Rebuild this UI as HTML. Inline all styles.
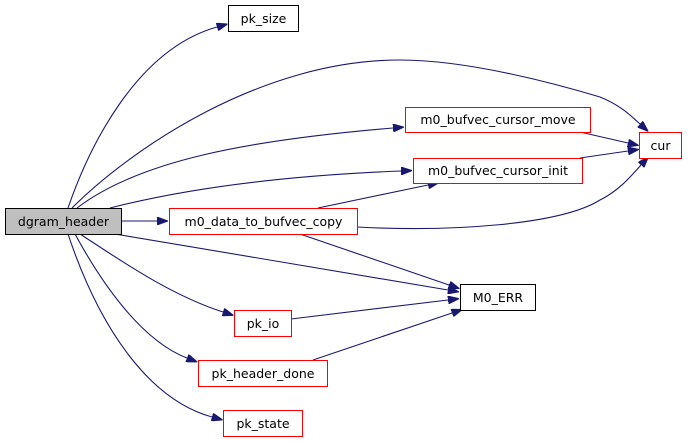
<!DOCTYPE html>
<html><head><meta charset="utf-8"><style>
html,body{margin:0;padding:0;background:#fff;}
svg{display:block;}
text{font-family:"DejaVu Sans","Liberation Sans",sans-serif;font-size:12.5px;fill:#000;}
</style></head><body>
<svg width="687" height="443" viewBox="0 0 687 443" xmlns="http://www.w3.org/2000/svg">
<defs>
<marker id="a" markerWidth="11" markerHeight="8" refX="0" refY="4" orient="auto" markerUnits="userSpaceOnUse">
<path d="M0,0 L11,4 L0,8 Z" fill="#191970" stroke="#191970"/>
</marker>
</defs>
<g fill="none" stroke="#191970" stroke-width="1.1" marker-end="url(#a)">
<path d="M68,208 C88,150 135,50 217,27"/>
<path d="M72,208 C130,150 260,60 400,60 C470,60 560,85 600,97 C620,105 630,115 640,124"/>
<path d="M77,208 C140,160 250,140 393,128"/>
<path d="M110,208 C200,185 300,175 401,171"/>
<path d="M122,221 L157,221"/>
<path d="M115,234 L448,290"/>
<path d="M80,234 C120,260 170,295 223,312"/>
<path d="M75,234 C100,280 140,340 187,358"/>
<path d="M68,234 C100,330 150,400 212,417"/>
<path d="M580,132 L628,143"/>
<path d="M580,158 L628,151"/>
<path d="M318,208 L428,185"/>
<path d="M357,227 C450,232 560,225 600,200 C620,190 632,175 641,165"/>
<path d="M300,234 L449,285"/>
<path d="M291,319 L448,300"/>
<path d="M313,360 L452,313"/>
</g>
<g stroke-width="1">
<rect x="5.5" y="208.5" width="116" height="26" fill="#bfbfbf" stroke="#000"/>
<rect x="228.5" y="5.5" width="70" height="26" fill="#fff" stroke="#000"/>
<rect x="169.5" y="208.5" width="188" height="26" fill="#fff" stroke="#f00"/>
<rect x="405.5" y="107.5" width="185" height="25" fill="#fff" stroke="#f00"/>
<rect x="413.5" y="158.5" width="169" height="25" fill="#fff" stroke="#f00"/>
<rect x="639.5" y="132.5" width="42" height="26" fill="#fff" stroke="#f00"/>
<rect x="460.5" y="284.5" width="75" height="26" fill="#fff" stroke="#000"/>
<rect x="234.5" y="310.5" width="57" height="26" fill="#fff" stroke="#f00"/>
<rect x="198.5" y="360.5" width="129" height="26" fill="#fff" stroke="#f00"/>
<rect x="223.5" y="410.5" width="79" height="26" fill="#fff" stroke="#f00"/>
</g>
<g text-anchor="middle">
<text x="63.5" y="226">dgram_header</text>
<text x="263.5" y="23">pk_size</text>
<text x="263.5" y="226">m0_data_to_bufvec_copy</text>
<text x="498" y="124">m0_bufvec_cursor_move</text>
<text x="498" y="175">m0_bufvec_cursor_init</text>
<text x="660.5" y="150">cur</text>
<text x="498" y="302">M0_ERR</text>
<text x="263" y="328">pk_io</text>
<text x="263" y="378">pk_header_done</text>
<text x="263" y="428">pk_state</text>
</g>
</svg>
</body></html>
